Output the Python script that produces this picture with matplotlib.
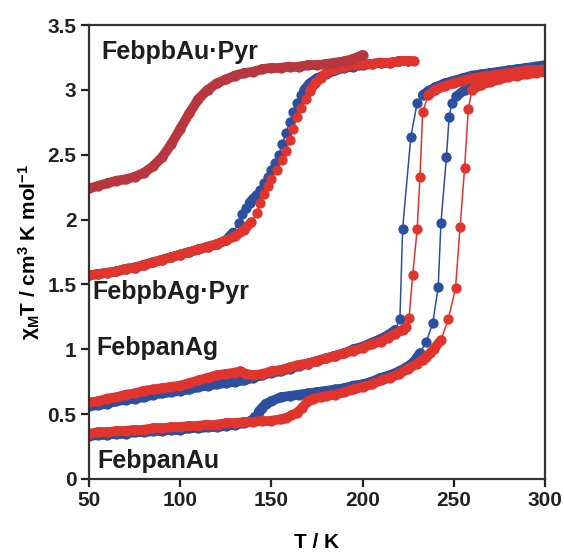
import matplotlib
matplotlib.use('Agg')
import matplotlib.pyplot as plt
from matplotlib.collections import LineCollection

plt.rcParams['font.family'] = ['Liberation Sans', 'DejaVu Sans']
plt.rcParams['font.weight'] = 'bold'
plt.rcParams['mathtext.fontset'] = 'custom'
plt.rcParams['mathtext.rm'] = 'Liberation Sans:bold'
plt.rcParams['mathtext.it'] = 'Liberation Sans:bold'
plt.rcParams['mathtext.bf'] = 'Liberation Sans:bold'

BLUE = '#2c4f9f'
RED = '#e0342c'
DARKRED = '#b8363d'

# chi_M T vs T, one list per compound and sweep

# FebpbAu.Pyr
pbAu_T = [50, 55, 60, 65, 70, 75, 80, 85, 90, 95, 100, 105, 110, 115, 120, 125,
          130, 135, 140, 145, 150, 155, 160, 165, 170, 175, 180, 185, 190, 195, 200]
pbAu_v = [2.24, 2.26, 2.28, 2.30, 2.31, 2.33, 2.36, 2.41, 2.48, 2.58, 2.70, 2.82,
          2.93, 3.00, 3.05, 3.08, 3.11, 3.13, 3.14, 3.16, 3.17, 3.17, 3.18, 3.18,
          3.19, 3.19, 3.20, 3.21, 3.22, 3.24, 3.27]

# FebpbAg.Pyr
pbAg_blue_T = [50, 55, 60, 65, 70, 75, 80, 85, 90, 95, 100, 105, 110, 115, 120, 125,
               129, 132, 134, 136, 138, 140, 142, 144, 146, 148, 150, 152, 154, 156,
               158, 160, 162, 164, 166, 168, 171, 175, 180, 185, 190, 195, 200, 205,
               210, 215, 220, 225]
pbAg_blue_v = [1.57, 1.58, 1.59, 1.60, 1.62, 1.63, 1.65, 1.67, 1.69, 1.71, 1.73, 1.75,
               1.77, 1.79, 1.81, 1.84, 1.90, 1.97, 2.04, 2.09, 2.13, 2.16, 2.19, 2.23,
               2.28, 2.33, 2.38, 2.44, 2.50, 2.58, 2.67, 2.75, 2.83, 2.90, 2.96, 3.00,
               3.05, 3.09, 3.12, 3.15, 3.17, 3.18, 3.19, 3.20, 3.21, 3.21, 3.22, 3.22]
pbAg_red_T = [50, 55, 60, 65, 70, 75, 80, 85, 90, 95, 100, 105, 110, 115, 120, 125,
              130, 135, 139, 142, 144, 146, 148, 150, 153, 156, 158, 160, 162, 164,
              166, 169, 171, 174, 177, 180, 185, 190, 195, 200, 205, 210, 215, 220,
              225, 228]
pbAg_red_v = [1.57, 1.58, 1.59, 1.60, 1.62, 1.63, 1.65, 1.67, 1.69, 1.71, 1.73, 1.75,
              1.77, 1.79, 1.81, 1.84, 1.87, 1.92, 1.98, 2.05, 2.13, 2.20, 2.26, 2.31,
              2.38, 2.46, 2.53, 2.61, 2.70, 2.79, 2.86, 2.93, 2.99, 3.05, 3.09, 3.13,
              3.16, 3.18, 3.19, 3.20, 3.20, 3.21, 3.21, 3.22, 3.22, 3.22]

# FebpanAg
panAg_blue_T = [50, 55, 60, 65, 70, 75, 80, 85, 90, 95, 100, 105, 110, 115, 120, 125,
                130, 135, 140, 145, 150, 155, 160, 165, 170, 175, 180, 185, 190, 195,
                200, 205, 210, 214, 218, 220.5, 222, 226.5, 230, 233, 236, 240, 245,
                250, 255, 260, 265, 270, 275, 280, 285, 290, 295, 300]
panAg_blue_v = [0.56, 0.57, 0.58, 0.60, 0.61, 0.62, 0.63, 0.65, 0.66, 0.67, 0.68, 0.69,
                0.71, 0.72, 0.73, 0.74, 0.75, 0.76, 0.78, 0.80, 0.82, 0.83, 0.85, 0.87,
                0.89, 0.91, 0.93, 0.95, 0.97, 1.00, 1.02, 1.05, 1.08, 1.11, 1.15, 1.23,
                1.93, 2.64, 2.90, 2.96, 2.99, 3.02, 3.05, 3.07, 3.09, 3.11, 3.12, 3.13,
                3.14, 3.15, 3.16, 3.17, 3.18, 3.19]
panAg_red_T = [50, 55, 60, 65, 70, 75, 80, 85, 90, 95, 100, 105, 110, 115, 120, 125,
               130, 133, 136, 140, 145, 150, 155, 160, 165, 170, 175, 180, 185, 190,
               195, 200, 205, 210, 214, 218, 222, 224, 225.5, 227.5, 230, 231.5, 233,
               236, 240, 245, 250, 255, 260, 265, 270, 275, 280, 285, 290, 295, 300]
panAg_red_v = [0.59, 0.60, 0.62, 0.63, 0.65, 0.66, 0.68, 0.69, 0.70, 0.71, 0.72, 0.74,
               0.76, 0.78, 0.80, 0.81, 0.82, 0.83, 0.81, 0.80, 0.81, 0.83, 0.84, 0.86,
               0.88, 0.89, 0.91, 0.93, 0.95, 0.97, 0.99, 1.01, 1.04, 1.06, 1.09, 1.12,
               1.15, 1.17, 1.24, 1.57, 1.93, 2.33, 2.83, 2.96, 3.00, 3.03, 3.05, 3.07,
               3.09, 3.10, 3.11, 3.12, 3.13, 3.14, 3.15, 3.15, 3.16]

# FebpanAu
panAu_blue_T = [50, 55, 60, 65, 70, 75, 80, 85, 90, 95, 100, 105, 110, 115, 120, 125,
                130, 135, 139, 141, 143, 145, 147, 150, 155, 160, 165, 170, 175, 180,
                185, 190, 195, 200, 205, 210, 215, 220, 224, 228, 231.5, 235, 238.5,
                241.5, 243, 246, 247.5, 249, 251.5, 256, 260, 265, 270, 275, 280, 285,
                290, 295, 300]
panAu_blue_v = [0.33, 0.34, 0.34, 0.35, 0.35, 0.36, 0.36, 0.37, 0.37, 0.38, 0.38, 0.39,
                0.39, 0.40, 0.40, 0.41, 0.42, 0.43, 0.45, 0.48, 0.52, 0.55, 0.58, 0.60,
                0.63, 0.64, 0.65, 0.66, 0.67, 0.68, 0.69, 0.70, 0.72, 0.73, 0.75, 0.78,
                0.80, 0.83, 0.86, 0.90, 0.97, 1.06, 1.20, 1.48, 1.97, 2.48, 2.79, 2.90,
                2.95, 3.00, 3.03, 3.06, 3.08, 3.10, 3.12, 3.13, 3.15, 3.16, 3.17]
panAu_red_T = [50, 55, 60, 65, 70, 75, 80, 85, 90, 95, 100, 105, 110, 115, 120, 125,
               130, 135, 140, 145, 150, 155, 158, 161, 164, 167, 170, 173, 177, 180,
               185, 190, 195, 200, 205, 210, 215, 220, 225, 230, 233, 235, 237, 239,
               243, 247, 251, 253.5, 256, 258, 260, 265, 270, 275, 280, 285, 290, 295,
               300]
panAu_red_v = [0.35, 0.36, 0.36, 0.37, 0.37, 0.38, 0.38, 0.39, 0.39, 0.40, 0.40, 0.41,
               0.41, 0.42, 0.42, 0.43, 0.43, 0.44, 0.44, 0.45, 0.45, 0.46, 0.47, 0.49,
               0.51, 0.55, 0.60, 0.62, 0.63, 0.64, 0.65, 0.67, 0.69, 0.71, 0.73, 0.76,
               0.78, 0.81, 0.85, 0.89, 0.92, 0.94, 0.97, 1.00, 1.07, 1.23, 1.47, 1.94,
               2.40, 2.85, 3.00, 3.04, 3.06, 3.08, 3.10, 3.11, 3.12, 3.13, 3.14]

labels = ['FebpbAu\u00b7Pyr', 'FebpbAg\u00b7Pyr', 'FebpanAg', 'FebpanAu']
label_pos = [(57, 3.24), (52, 1.39), (54, 0.955), (54.5, 0.085)]

fig = plt.figure(figsize=(5.64, 5.56), dpi=100)
ax = fig.add_axes([0.158, 0.1385, 0.808, 0.8165])


def sweep(T, v, c):
    # closely spaced readings merge into a solid band, sparse ones stay as dots
    segs, widths = [], []
    for i in range(len(T) - 1):
        dT = T[i + 1] - T[i]
        slope = abs(v[i + 1] - v[i]) / dT
        segs.append([(T[i], v[i]), (T[i + 1], v[i + 1])])
        dense = slope < 0.025 and (dT >= 4.5 or slope < 0.02)
        widths.append(7.0 if dense else 1.1)
    lc = LineCollection(segs, colors=c, linewidths=widths, capstyle='round')
    ax.add_collection(lc)
    ax.plot(T, v, ls='none', marker='o', ms=6.4, mec=c, mfc=c)


sweep(panAu_blue_T, panAu_blue_v, BLUE)
sweep(panAu_red_T, panAu_red_v, RED)
sweep(panAg_blue_T, panAg_blue_v, BLUE)
sweep(panAg_red_T, panAg_red_v, RED)
sweep(pbAg_blue_T, pbAg_blue_v, BLUE)
sweep(pbAg_red_T, pbAg_red_v, RED)
sweep(pbAu_T, pbAu_v, DARKRED)

for s, (x, y) in zip(labels, label_pos):
    ax.text(x, y, s, fontsize=18, fontweight='bold', color='#1e1e1e',
            va='baseline', ha='left')

ax.set_xlim(50, 300)
ax.set_ylim(0, 3.5)
ax.set_xticks([50, 100, 150, 200, 250, 300])
ax.set_yticks([0, 0.5, 1, 1.5, 2, 2.5, 3, 3.5])
ax.set_yticklabels(['0', '0.5', '1', '1.5', '2', '2.5', '3', '3.5'])
ax.tick_params(direction='out', length=6, width=1.6, labelsize=15,
               colors='#222222', pad=3)
for t in ax.get_xticklabels() + ax.get_yticklabels():
    t.set_fontweight('bold')
for sp in ax.spines.values():
    sp.set_linewidth(1.6)
    sp.set_color('#333333')

ax.set_xlabel('T / K', fontsize=15, fontweight='bold', labelpad=16)
ax.set_ylabel(r'$\chi_{\mathrm{M}}$T / cm$^3$ K mol$^{-1}$', fontsize=15,
              fontweight='bold', labelpad=4)

fig.savefig('out.png', dpi=100)
